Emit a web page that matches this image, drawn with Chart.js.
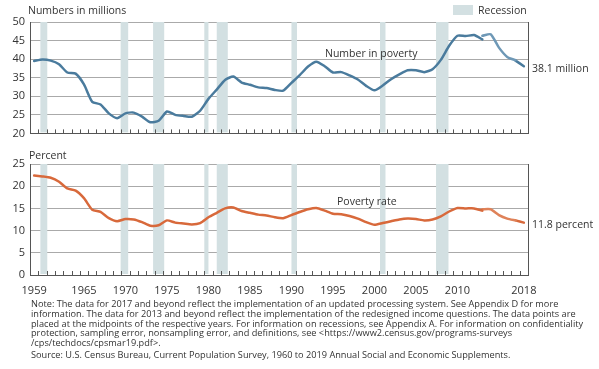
<!DOCTYPE html>
<html>
<head>
<meta charset="utf-8">
<script src="https://cdn.jsdelivr.net/npm/chart.js@4.4.0/dist/chart.umd.min.js"></script>
<style>
  body { margin: 0; background: #fff; }
  #wrap { position: relative; width: 599px; height: 369px; font-family: "Open Sans", sans-serif; color: #333; }
  canvas { position: absolute; left: 0; }
  .lbl { position: absolute; font-size: 10.5px; white-space: nowrap; line-height: 1; }
  .note { position: absolute; left: 31px; top: 299px; font-size: 9.2px; line-height: 9.8px; white-space: nowrap; color: #333; }
  .swatch { position: absolute; left: 453px; top: 5px; width: 20px; height: 10px; background: #d3e0e2; }
</style>
</head>
<body>
<div id="wrap">
  <canvas id="countCanvas" width="599" height="145" style="top:0"></canvas>
  <canvas id="rateCanvas" width="599" height="160" style="top:140px"></canvas>

  <div class="lbl" style="left:28px; top:5px">Numbers in millions</div>
  <div class="swatch"></div>
  <div class="lbl" style="left:478px; top:5px">Recession</div>
  <div class="lbl" style="left:325px; top:48px">Number in poverty</div>
  <div class="lbl" style="left:532px; top:63px">38.1 million</div>
  <div class="lbl" style="left:29px; top:150px">Percent</div>
  <div class="lbl" style="left:337px; top:196px">Poverty rate</div>
  <div class="lbl" style="left:532px; top:219px">11.8 percent</div>

  <div class="note">Note: The data for 2017 and beyond reflect the implementation of an updated processing system. See Appendix D for more<br>information. The data for 2013 and beyond reflect the implementation of the redesigned income questions. The data points are<br>placed at the midpoints of the respective years. For information on recessions, see Appendix A. For information on confidentiality<br>protection, sampling error, nonsampling error, and definitions, see &lt;https://www2.census.gov/programs-surveys<br>/cps/techdocs/cpsmar19.pdf&gt;.<div style="height:2.5px"></div>Source: U.S. Census Bureau, Current Population Survey, 1960 to 2019 Annual Social and Economic Supplements.</div>
</div>

<script>
// years 1959 .. 2013 (old income questions)
const yearsA = [1959,1960,1961,1962,1963,1964,1965,1966,1967,1968,1969,1970,1971,1972,1973,1974,1975,1976,1977,1978,1979,
  1980,1981,1982,1983,1984,1985,1986,1987,1988,1989,1990,1991,1992,1993,1994,1995,1996,1997,1998,1999,
  2000,2001,2002,2003,2004,2005,2006,2007,2008,2009,2010,2011,2012,2013];
const countA = [39.5,39.9,39.6,38.6,36.4,36.1,33.2,28.5,27.8,25.4,24.1,25.4,25.6,24.5,23.0,23.4,25.9,25.0,24.7,24.5,26.1,
  29.3,31.8,34.4,35.3,33.7,33.1,32.4,32.2,31.7,31.5,33.6,35.7,38.0,39.3,38.1,36.4,36.5,35.6,34.5,32.8,
  31.6,32.9,34.6,35.9,37.0,37.0,36.5,37.3,39.8,43.6,46.3,46.2,46.5,45.3];
const rateA = [22.4,22.2,21.9,21.0,19.5,19.0,17.3,14.7,14.2,12.8,12.1,12.6,12.5,11.9,11.1,11.2,12.3,11.8,11.6,11.4,11.7,
  13.0,14.0,15.0,15.2,14.4,14.0,13.6,13.4,13.0,12.8,13.5,14.2,14.8,15.1,14.5,13.8,13.7,13.3,12.7,11.9,
  11.3,11.7,12.1,12.5,12.7,12.6,12.3,12.5,13.2,14.3,15.1,15.0,15.0,14.5];

// redesigned income questions, 2013 .. 2017
const yearsB = [2013,2014,2015,2016,2017];
const countB = [46.3,46.7,43.1,40.6,39.7];
const rateB = [14.8,14.8,13.5,12.7,12.3];

// updated processing system, 2017 .. 2018
const yearsC = [2017,2018];
const countC = [39.6,38.1];
const rateC = [12.3,11.8];

const labelYears = [1959,1965,1970,1975,1980,1985,1990,1995,2000,2005,2010,2018];
const recessions = [[1960.25,1961.08],[1969.92,1970.83],[1973.83,1975.17],[1980.0,1980.5],
  [1981.5,1982.83],[1990.5,1991.17],[2001.17,2001.83],[2007.92,2009.42]];

const FONT = '"Open Sans", sans-serif';
const AXIS = '#555';

function pts(years, vals) {
  return years.map((y, i) => ({ x: y + 0.5, y: vals[i] }));
}

const framePlugin = {
  id: 'frame',
  beforeDatasetsDraw(chart) {
    const { ctx, chartArea: a, scales: { x } } = chart;
    ctx.save();
    ctx.fillStyle = '#d3e0e2';
    recessions.forEach(r => {
      const x1 = x.getPixelForValue(r[0]);
      const x2 = x.getPixelForValue(r[1]);
      ctx.fillRect(x1, a.top, x2 - x1, a.bottom - a.top - 1);
    });
    ctx.restore();
  },
  afterDraw(chart) {
    const { ctx, chartArea: a, scales: { x } } = chart;
    ctx.save();
    ctx.strokeStyle = AXIS;
    ctx.lineWidth = 1;
    ctx.beginPath();
    for (let y = 1960; y <= 2018; y++) {
      const px = Math.round(x.getPixelForValue(y)) + 0.5;
      ctx.moveTo(px, a.bottom);
      ctx.lineTo(px, a.bottom - 4);
    }
    const rx = Math.round(a.right) + 0.5;
    ctx.moveTo(rx, a.top);
    ctx.lineTo(rx, a.bottom);
    ctx.stroke();
    ctx.restore();
  }
};

function makeChart(id, opts) {
  const line = (data, color) => ({
    data, borderColor: color, borderWidth: 2.5, pointRadius: 0,
    tension: 0.2, borderJoinStyle: 'round', borderCapStyle: 'round'
  });
  return new Chart(document.getElementById(id).getContext('2d'), {
    type: 'line',
    data: {
      datasets: [
        line(pts(yearsA, opts.a), opts.color),
        line(pts(yearsB, opts.b), opts.light),
        line(pts(yearsC, opts.c), opts.color)
      ]
    },
    options: {
      responsive: false,
      animation: false,
      layout: { padding: { top: opts.padTop, right: 71, left: 0, bottom: 0 } },
      plugins: { legend: { display: false }, tooltip: { enabled: false } },
      scales: {
        x: {
          type: 'linear', min: 1959, max: 2019,
          grid: { display: false },
          border: { display: true, color: AXIS, width: 1 },
          afterFit: s => { s.height = opts.xHeight; },
          afterBuildTicks: s => { s.ticks = labelYears.map(v => ({ value: v + 0.5 })); },
          ticks: {
            display: opts.showYears, autoSkip: false, maxRotation: 0, padding: 1,
            color: '#333', font: { family: FONT, size: 11 },
            callback: v => String(Math.floor(v))
          }
        },
        y: {
          min: opts.min, max: opts.max,
          afterFit: s => { s.width = 30; },
          grid: { color: '#aaa', lineWidth: 1, drawTicks: false },
          border: { display: true, color: AXIS, width: 1 },
          ticks: { stepSize: 5, padding: 5, color: '#333', font: { family: FONT, size: 11 } }
        }
      }
    },
    plugins: [framePlugin]
  });
}

makeChart('countCanvas', {
  a: countA, b: countB, c: countC, color: '#4a7b9d', light: '#6e98b6',
  min: 20, max: 50, padTop: 22, xHeight: 10, showYears: false
});
makeChart('rateCanvas', {
  a: rateA, b: rateB, c: rateC, color: '#d8693b', light: '#df8259',
  min: 0, max: 25, padTop: 24, xHeight: 25, showYears: true
});
</script>
</body>
</html>
